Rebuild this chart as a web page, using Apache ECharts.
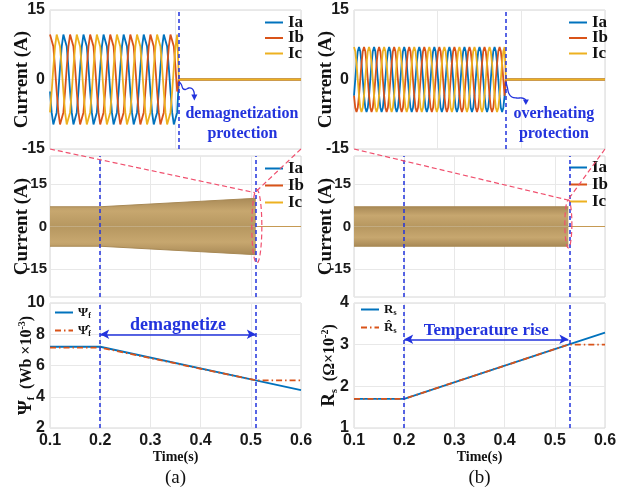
<!DOCTYPE html>
<html>
<head>
<meta charset="utf-8">
<script src="https://cdn.jsdelivr.net/npm/echarts@6/dist/echarts.min.js"></script>
<style>
  html, body { margin: 0; padding: 0; background: #fff; }
  #c { width: 638px; height: 491px; }
</style>
</head>
<body>
<div id="c"></div>
<script>
// ---------------- data ----------------
// (a) close-up of the phase currents around the demagnetization trip (12 samples per electrical period)
const demagIa = [
  -2.6, -7.1, -9.7, -9.7, -7.1, -2.6, 2.6, 7.1, 9.7, 9.7, 7.1, 2.6,
  -2.6, -7.1, -9.7, -9.7, -7.1, -2.6, 2.6, 7.1, 9.7, 9.7, 7.1, 2.6,
  -2.6, -7.1, -9.7, -9.7, -7.1, -2.6, 2.6, 7.1, 9.7, 9.7, 7.1, 2.6,
  -2.6, -7.1, -9.7, -9.7, -7.1, -2.6, 2.6, 7.1, 9.7, 9.7, 7.1, 2.6,
  -2.6, -7.1, -9.7, -9.7, -7.1, -2.6, 2.6, 7.1, 9.7, 9.7, 7.1, 2.6,
  -2.6, -7.1, -9.7, -9.7, -7.1, -2.6, 2.6, 7.1, 9.7, 9.7, 7.1, 2.6,
  -2.6, -7.1, -9.7, -9.7, -7.1
];
const demagIb = [
  9.7, 9.7, 7.1, 2.6, -2.6, -7.1, -9.7, -9.7, -7.1, -2.6, 2.6, 7.1,
  9.7, 9.7, 7.1, 2.6, -2.6, -7.1, -9.7, -9.7, -7.1, -2.6, 2.6, 7.1,
  9.7, 9.7, 7.1, 2.6, -2.6, -7.1, -9.7, -9.7, -7.1, -2.6, 2.6, 7.1,
  9.7, 9.7, 7.1, 2.6, -2.6, -7.1, -9.7, -9.7, -7.1, -2.6, 2.6, 7.1,
  9.7, 9.7, 7.1, 2.6, -2.6, -7.1, -9.7, -9.7, -7.1, -2.6, 2.6, 7.1,
  9.7, 9.7, 7.1, 2.6, -2.6, -7.1, -9.7, -9.7, -7.1, -2.6, 2.6, 7.1,
  9.7, 9.7, 7.1, 2.6, -2.6
];
const demagIc = [
  -7.1, -2.6, 2.6, 7.1, 9.7, 9.7, 7.1, 2.6, -2.6, -7.1, -9.7, -9.7,
  -7.1, -2.6, 2.6, 7.1, 9.7, 9.7, 7.1, 2.6, -2.6, -7.1, -9.7, -9.7,
  -7.1, -2.6, 2.6, 7.1, 9.7, 9.7, 7.1, 2.6, -2.6, -7.1, -9.7, -9.7,
  -7.1, -2.6, 2.6, 7.1, 9.7, 9.7, 7.1, 2.6, -2.6, -7.1, -9.7, -9.7,
  -7.1, -2.6, 2.6, 7.1, 9.7, 9.7, 7.1, 2.6, -2.6, -7.1, -9.7, -9.7,
  -7.1, -2.6, 2.6, 7.1, 9.7, 9.7, 7.1, 2.6, -2.6, -7.1, -9.7, -9.7,
  -7.1, -2.6, 2.6, 7.1, 9.7
];
const demagTripSample = 77;
const demagWindowSamples = 150;

// (b) close-up of the phase currents around the overheating trip
const heatIa = [
  -3.5, 0, 3.5, 6.1, 7, 6.1, 3.5, 0, -3.5, -6.1, -7, -6.1,
  -3.5, 0, 3.5, 6.1, 7, 6.1, 3.5, 0, -3.5, -6.1, -7, -6.1,
  -3.5, 0, 3.5, 6.1, 7, 6.1, 3.5, 0, -3.5, -6.1, -7, -6.1,
  -3.5, 0, 3.5, 6.1, 7, 6.1, 3.5, 0, -3.5, -6.1, -7, -6.1,
  -3.5, 0, 3.5, 6.1, 7, 6.1, 3.5, 0, -3.5, -6.1, -7, -6.1,
  -3.5, 0, 3.5, 6.1, 7, 6.1, 3.5, 0, -3.5, -6.1, -7, -6.1,
  -3.5, 0, 3.5, 6.1, 7, 6.1, 3.5, 0, -3.5, -6.1, -7, -6.1,
  -3.5, 0, 3.5, 6.1, 7, 6.1, 3.5, 0, -3.5, -6.1, -7, -6.1,
  -3.5, 0, 3.5, 6.1, 7, 6.1, 3.5, 0, -3.5, -6.1, -7, -6.1,
  -3.5, 0, 3.5, 6.1, 7, 6.1, 3.5, 0, -3.5, -6.1, -7, -6.1,
  -3.5
];
const heatIb = [
  -3.5, -6.1, -7, -6.1, -3.5, 0, 3.5, 6.1, 7, 6.1, 3.5, 0,
  -3.5, -6.1, -7, -6.1, -3.5, 0, 3.5, 6.1, 7, 6.1, 3.5, 0,
  -3.5, -6.1, -7, -6.1, -3.5, 0, 3.5, 6.1, 7, 6.1, 3.5, 0,
  -3.5, -6.1, -7, -6.1, -3.5, 0, 3.5, 6.1, 7, 6.1, 3.5, 0,
  -3.5, -6.1, -7, -6.1, -3.5, 0, 3.5, 6.1, 7, 6.1, 3.5, 0,
  -3.5, -6.1, -7, -6.1, -3.5, 0, 3.5, 6.1, 7, 6.1, 3.5, 0,
  -3.5, -6.1, -7, -6.1, -3.5, 0, 3.5, 6.1, 7, 6.1, 3.5, 0,
  -3.5, -6.1, -7, -6.1, -3.5, 0, 3.5, 6.1, 7, 6.1, 3.5, 0,
  -3.5, -6.1, -7, -6.1, -3.5, 0, 3.5, 6.1, 7, 6.1, 3.5, 0,
  -3.5, -6.1, -7, -6.1, -3.5, 0, 3.5, 6.1, 7, 6.1, 3.5, 0,
  -3.5
];
const heatIc = [
  7, 6.1, 3.5, 0, -3.5, -6.1, -7, -6.1, -3.5, 0, 3.5, 6.1,
  7, 6.1, 3.5, 0, -3.5, -6.1, -7, -6.1, -3.5, 0, 3.5, 6.1,
  7, 6.1, 3.5, 0, -3.5, -6.1, -7, -6.1, -3.5, 0, 3.5, 6.1,
  7, 6.1, 3.5, 0, -3.5, -6.1, -7, -6.1, -3.5, 0, 3.5, 6.1,
  7, 6.1, 3.5, 0, -3.5, -6.1, -7, -6.1, -3.5, 0, 3.5, 6.1,
  7, 6.1, 3.5, 0, -3.5, -6.1, -7, -6.1, -3.5, 0, 3.5, 6.1,
  7, 6.1, 3.5, 0, -3.5, -6.1, -7, -6.1, -3.5, 0, 3.5, 6.1,
  7, 6.1, 3.5, 0, -3.5, -6.1, -7, -6.1, -3.5, 0, 3.5, 6.1,
  7, 6.1, 3.5, 0, -3.5, -6.1, -7, -6.1, -3.5, 0, 3.5, 6.1,
  7, 6.1, 3.5, 0, -3.5, -6.1, -7, -6.1, -3.5, 0, 3.5, 6.1,
  7
];
const heatTripSample = 121;
const heatWindowSamples = 200;

// event times (s)
const faultStart = 0.2;
const demagTrip = 0.51;
const heatTrip = 0.527;
const simEnd = 0.6;

// full-run current envelope (peak of the three phase currents)
const demagBandTime = [0.1, 0.2, 0.51];
const demagBandHigh = [7, 7, 10];
const demagBandLow = [-7, -7, -10];
const heatBandTime = [0.1, 0.2, 0.527];
const heatBandHigh = [7, 7, 7];
const heatBandLow = [-7, -7, -7];

// flux linkage (Wb x 1e-3)
const fluxTime = [0.1, 0.2, 0.51, 0.6];
const fluxActual = [7.2, 7.2, 5.05, 4.43];
const fluxEstimated = [7.15, 7.15, 5.05, 5.05];

// stator resistance (Ohm x 1e-2)
const rsTime = [0.1, 0.2, 0.527, 0.6];
const rsActual = [1.7, 1.7, 3.0, 3.29];
const rsEstimated = [1.7, 1.7, 3.0, 3.0];

const timeTicks = [0.1, 0.2, 0.3, 0.4, 0.5, 0.6];

// ---------------- styling ----------------
const BLUE = '#0072BD', ORANGE = '#D95319', YELLOW = '#EDB120';
const NOTE = '#2233dd', RED = '#f0506e';
const SERIF = '"Liberation Serif","Times New Roman",serif';
const SANS = '"Liberation Sans",Arial,sans-serif';
const GRID_LINE = '#e8e8e8';

// [left, top, width, height] for: top-a, mid-a, bottom-a, top-b, mid-b, bottom-b
const GRIDS = [
  [50, 10, 251, 139], [50, 156, 251, 141], [50, 303, 251, 125],
  [354, 10, 251, 139], [354, 156, 251, 141], [354, 303, 251, 125]
];

const zip = (xs, ys) => xs.map((x, i) => [x, ys[i]]);
const sampled = (vals, trip, end) => vals.map((v, i) => [i, v]).concat([[trip, 0], [end, 0]]);

const tickLabel = (size) => ({ color: '#1a1a1a', fontFamily: SANS, fontWeight: 'bold', fontSize: size, margin: 5 });

function xAxisDef(gi, min, max, interval, withLabels) {
  return {
    type: 'value', gridIndex: gi, min, max, interval,
    axisLine: { show: false }, axisTick: { show: false },
    splitLine: { show: true, lineStyle: { color: GRID_LINE, width: 1 } },
    axisLabel: Object.assign(tickLabel(16), { show: withLabels, formatter: v => v.toFixed(1) }),
    name: withLabels ? 'Time(s)' : '', nameLocation: 'middle', nameGap: 22, nameMoveOverlap: false,
    nameTextStyle: { fontFamily: SERIF, fontWeight: 'bold', fontSize: 14, color: '#111' }
  };
}
function yAxisDef(gi, min, max, interval, name, nameGap, labelSize, extra) {
  return Object.assign({
    type: 'value', gridIndex: gi, min, max, interval,
    axisLine: { show: false }, axisTick: { show: false },
    splitLine: { show: true, lineStyle: { color: GRID_LINE, width: 1 } },
    axisLabel: tickLabel(labelSize),
    name, nameLocation: 'middle', nameGap, nameMoveOverlap: false,
    nameTextStyle: {
      fontFamily: SERIF, fontWeight: 'bold', fontSize: 19, color: '#111',
      rich: {
        g: { fontFamily: SERIF, fontWeight: 'bold', fontSize: 19, color: '#111' },
        s: { fontFamily: SERIF, fontWeight: 'bold', fontSize: 10, color: '#111', verticalAlign: 'bottom' },
        t: { fontFamily: SERIF, fontWeight: 'bold', fontSize: 16, color: '#111' },
        p: { fontFamily: SERIF, fontWeight: 'bold', fontSize: 10, color: '#111', verticalAlign: 'top' }
      }
    }
  }, extra || {});
}
// middle panels: scale runs to +/-25 but only -15, 0, 15 are labelled and gridded
const midAxisExtra = {
  axisLabel: Object.assign(tickLabel(15), { margin: 3, formatter: v => (v === 15 || v === 0 || v === -15) ? String(v) : '' }),
  splitLine: { show: true, lineStyle: { color: ['rgba(0,0,0,0)', 'rgba(0,0,0,0)', GRID_LINE], width: 1 } }
};

function wave(name, vals, trip, end, color, gi, markLine) {
  const s = {
    type: 'line', name, xAxisIndex: gi, yAxisIndex: gi, data: sampled(vals, trip, end),
    symbol: 'none', lineStyle: { color, width: 1.8 }, itemStyle: { color }, z: 3
  };
  if (markLine) s.markLine = markLine;
  return s;
}
function zeroTail(name, start, color, gi) {
  return {
    type: 'line', name, xAxisIndex: gi, yAxisIndex: gi, data: [[start, 0], [simEnd, 0]],
    symbol: 'none', lineStyle: { color, width: 1.2, opacity: 0.45 }, itemStyle: { color }, z: 3
  };
}
function bandGradient(edgeAtTop) {
  const edge = '#a98a57', mid = '#c7a76f', centre = '#b69760';
  const stops = edgeAtTop
    ? [{ offset: 0, color: edge }, { offset: 0.45, color: mid }, { offset: 1, color: centre }]
    : [{ offset: 0, color: centre }, { offset: 0.55, color: mid }, { offset: 1, color: edge }];
  return new echarts.graphic.LinearGradient(0, 0, 0, 1, stops);
}
function band(times, vals, gi, upper, markLine) {
  const s = {
    type: 'line', name: upper ? 'envelope+' : 'envelope-', xAxisIndex: gi, yAxisIndex: gi,
    data: zip(times, vals), symbol: 'none',
    lineStyle: { color: '#a88955', width: 1 },
    areaStyle: { color: bandGradient(upper), opacity: 1 }, z: 2
  };
  if (markLine) s.markLine = markLine;
  return s;
}
const dashV = (xs) => ({
  silent: true, symbol: 'none', label: { show: false },
  lineStyle: { color: NOTE, type: [4, 3], width: 1.5 },
  data: xs.map(x => ({ xAxis: x }))
});
function spanArrow(x0, x1, y, text, size) {
  return [
    {
      coord: [x0, y], symbol: 'arrow', symbolSize: [7, 9],
      lineStyle: { type: 'solid', color: NOTE, width: 1.5 },
      label: { show: true, position: 'middle', formatter: text, color: NOTE, fontFamily: SERIF, fontWeight: 'bold', fontSize: size, distance: 0 }
    },
    { coord: [x1, y], symbol: 'arrow', symbolSize: [7, 9] }
  ];
}

const legendText = {
  fontFamily: SERIF, fontWeight: 'bold', fontSize: 17, color: '#111', lineHeight: 15,
  rich: {
    g: { fontFamily: SERIF, fontWeight: 'bold', fontSize: 13, color: '#111' },
    s: { fontFamily: SERIF, fontWeight: 'bold', fontSize: 8, color: '#111', verticalAlign: 'bottom' }
  }
};
// legend keys are plain line samples (no marker)
const legendMarker = { opacity: 0, borderWidth: 0 };
const phaseLegend = (left, top, gap) => ({
  orient: 'vertical', left, top, padding: 0, itemWidth: 18, itemHeight: 14, itemGap: gap,
  selectedMode: false, data: ['Ia', 'Ib', 'Ic'], textStyle: legendText, itemStyle: legendMarker
});

const option = {
  animation: false,
  backgroundColor: '#ffffff',
  grid: GRIDS.map(g => ({
    left: g[0], top: g[1], width: g[2], height: g[3], show: true,
    borderColor: '#d6d6d6', borderWidth: 1, backgroundColor: '#fff',
    containLabel: false, outerBoundsMode: 'none'
  })),
  xAxis: [
    xAxisDef(0, 0, demagWindowSamples, demagWindowSamples / 2, false),
    xAxisDef(1, timeTicks[0], timeTicks[5], 0.1, false),
    xAxisDef(2, timeTicks[0], timeTicks[5], 0.1, true),
    xAxisDef(3, 0, heatWindowSamples, heatWindowSamples / 3, false),
    xAxisDef(4, timeTicks[0], timeTicks[5], 0.1, false),
    xAxisDef(5, timeTicks[0], timeTicks[5], 0.1, true)
  ],
  yAxis: [
    yAxisDef(0, -15, 15, 15, 'Current (A)', 18, 16),
    yAxisDef(1, -25, 25, 5, 'Current (A)', 18, 15, midAxisExtra),
    yAxisDef(2, 2, 10, 2, '{g|Ψ}{s|f}{t|  (Wb ×10}{p|-3}{t|)}', 14, 16),
    yAxisDef(3, -15, 15, 15, 'Current (A)', 18, 16),
    yAxisDef(4, -25, 25, 5, 'Current (A)', 18, 15, midAxisExtra),
    yAxisDef(5, 1, 4, 1, '{g|R}{s|s}{t|  (Ω×10}{p|-2}{t|)}', 15, 16)
  ],
  legend: [
    phaseLegend(264, 14, -1.5),
    phaseLegend(264, 160, 0),
    phaseLegend(568, 14, -1.5),
    phaseLegend(568, 159, 0),
    {
      orient: 'vertical', left: 54, top: 305, padding: 0, itemWidth: 18, itemHeight: 14, itemGap: 3,
      selectedMode: false, data: ['Ψf', 'Ψ̂f'], textStyle: legendText, itemStyle: legendMarker,
      formatter: n => n === 'Ψf' ? '{g|Ψ}{s|f}' : '{g|Ψ\u0302}{s|f}'
    },
    {
      orient: 'vertical', left: 360, top: 302, padding: 0, itemWidth: 18, itemHeight: 14, itemGap: 3,
      selectedMode: false, data: ['Rs', 'R̂s'], textStyle: legendText, itemStyle: legendMarker,
      formatter: n => n === 'Rs' ? '{g|R}{s|s}' : '{g|R\u0302}{s|s}'
    }
  ],
  series: [
    // (a) top: close-up
    wave('Ia', demagIa, demagTripSample, demagWindowSamples, BLUE, 0),
    wave('Ib', demagIb, demagTripSample, demagWindowSamples, ORANGE, 0),
    wave('Ic', demagIc, demagTripSample, demagWindowSamples, YELLOW, 0, dashV([demagTripSample])),
    // (a) middle: whole run
    band(demagBandTime, demagBandHigh, 1, true, dashV([faultStart, demagTrip])),
    band(demagBandTime, demagBandLow, 1, false),
    zeroTail('Ia', demagTrip, BLUE, 1),
    zeroTail('Ib', demagTrip, ORANGE, 1),
    zeroTail('Ic', demagTrip, YELLOW, 1),
    // (a) bottom: flux linkage
    {
      type: 'line', name: 'Ψf', xAxisIndex: 2, yAxisIndex: 2, data: zip(fluxTime, fluxActual),
      symbol: 'none', lineStyle: { color: BLUE, width: 1.8 }, itemStyle: { color: BLUE }, z: 3,
      markLine: {
        silent: true, symbol: 'none', label: { show: false },
        lineStyle: { color: NOTE, type: [4, 3], width: 1.5 },
        data: [{ xAxis: faultStart }, { xAxis: demagTrip }, spanArrow(faultStart, demagTrip, 8.0, 'demagnetize', 18)]
      }
    },
    {
      type: 'line', name: 'Ψ̂f', xAxisIndex: 2, yAxisIndex: 2, data: zip(fluxTime, fluxEstimated),
      symbol: 'none', lineStyle: { color: ORANGE, width: 1.8, type: [6, 3, 1.5, 3] }, itemStyle: { color: ORANGE }, z: 4
    },
    // (b) top: close-up
    wave('Ia', heatIa, heatTripSample, heatWindowSamples, BLUE, 3),
    wave('Ib', heatIb, heatTripSample, heatWindowSamples, ORANGE, 3),
    wave('Ic', heatIc, heatTripSample, heatWindowSamples, YELLOW, 3, dashV([heatTripSample])),
    // (b) middle: whole run
    band(heatBandTime, heatBandHigh, 4, true, dashV([faultStart, heatTrip])),
    band(heatBandTime, heatBandLow, 4, false),
    zeroTail('Ia', heatTrip, BLUE, 4),
    zeroTail('Ib', heatTrip, ORANGE, 4),
    zeroTail('Ic', heatTrip, YELLOW, 4),
    // (b) bottom: stator resistance
    {
      type: 'line', name: 'Rs', xAxisIndex: 5, yAxisIndex: 5, data: zip(rsTime, rsActual),
      symbol: 'none', lineStyle: { color: BLUE, width: 1.8 }, itemStyle: { color: BLUE }, z: 3,
      markLine: {
        silent: true, symbol: 'none', label: { show: false },
        lineStyle: { color: NOTE, type: [4, 3], width: 1.5 },
        data: [{ xAxis: faultStart }, { xAxis: heatTrip }, spanArrow(faultStart, heatTrip, 3.13, 'Temperature rise', 17)]
      }
    },
    {
      type: 'line', name: 'R̂s', xAxisIndex: 5, yAxisIndex: 5, data: zip(rsTime, rsEstimated),
      symbol: 'none', lineStyle: { color: ORANGE, width: 1.8, type: [6, 3, 1.5, 3] }, itemStyle: { color: ORANGE }, z: 4
    }
  ]
};

const chart = echarts.init(document.getElementById('c'), null, { renderer: 'canvas' });
chart.setOption(option);

// ---------------- annotations placed from axis coordinates ----------------
const px = (g, pt) => chart.convertToPixel({ gridIndex: g }, pt);
const redDash = { stroke: RED, lineWidth: 1.2, lineDash: [5, 3], fill: null };

function ellipse(g, t, v, dt, dv) {
  const c = px(g, [t, v]);
  const rx = Math.abs(px(g, [t + dt, v])[0] - c[0]);
  const ry = Math.abs(px(g, [t, v + dv])[1] - c[1]);
  const pts = [];
  for (let k = 0; k < 60; k++) {
    const a = (k / 60) * Math.PI * 2;
    pts.push([c[0] + rx * Math.cos(a), c[1] + ry * Math.sin(a)]);
  }
  return { type: 'polygon', shape: { points: pts }, style: Object.assign({}, redDash), z: 100, silent: true };
}
function zoomLinks(topG, midG, windowSamples, meet) {
  const a = px(topG, [0, -15]), b = px(topG, [windowSamples, -15]), m = px(midG, meet);
  return [
    { type: 'line', shape: { x1: a[0], y1: a[1], x2: m[0], y2: m[1] }, style: Object.assign({}, redDash), z: 100, silent: true },
    { type: 'line', shape: { x1: b[0], y1: b[1], x2: m[0], y2: m[1] }, style: Object.assign({}, redDash), z: 100, silent: true }
  ];
}
function noteText(x, y, text) {
  return {
    type: 'text', x, y, z: 100, silent: true,
    style: { text, fill: NOTE, font: 'bold 16px ' + SERIF, textAlign: 'center', textVerticalAlign: 'middle' }
  };
}
function curlyArrow(origin, path, head) {
  return [
    { type: 'polyline', z: 100, silent: true,
      shape: { points: path.map(p => [origin[0] + p[0], origin[1] + p[1]]), smooth: 0.4 },
      style: { stroke: NOTE, lineWidth: 1.3, fill: null } },
    { type: 'polygon', z: 100, silent: true,
      shape: { points: head.map(p => [origin[0] + p[0], origin[1] + p[1]]) },
      style: { fill: NOTE } }
  ];
}
function caption(g, text) {
  const grid = GRIDS[g];
  return {
    type: 'text', x: grid[0] + grid[2] / 2, y: grid[1] + grid[3] + 50, z: 100, silent: true,
    style: { text, fill: '#111', font: '19px ' + SERIF, textAlign: 'center', textVerticalAlign: 'middle' }
  };
}

const tripA = px(0, [demagTripSample, 0]);
const tripB = px(3, [heatTripSample, 0]);

chart.setOption({
  graphic: [].concat(
    zoomLinks(0, 1, demagWindowSamples, [0.508, 12]),
    zoomLinks(3, 4, heatWindowSamples, [0.526, 9.4]),
    [ellipse(1, 0.512, 0, 0.01, 13), ellipse(4, 0.527, 0.9, 0.007, 8.5)],
    [noteText(tripA[0] + 63, tripA[1] + 34, 'demagnetization'), noteText(tripA[0] + 63.5, tripA[1] + 54, 'protection')],
    [noteText(tripB[0] + 48, tripB[1] + 34, 'overheating'), noteText(tripB[0] + 48, tripB[1] + 54, 'protection')],
    curlyArrow(tripA, [[0, 2], [2.5, 5], [4, 9], [6.5, 10], [10, 8.5], [13, 9], [15, 12], [15.5, 16]],
      [[12.5, 15], [18.5, 15], [15.5, 21]]),
    curlyArrow(tripB, [[0, 2], [1.5, 8], [3, 14], [6, 17.5], [11, 18.5], [16, 18.5], [19, 19.5], [20, 21]],
      [[17, 20], [23, 20], [20, 25.5]]),
    [caption(2, '(a)'), caption(5, '(b)')]
  )
});
</script>
</body>
</html>
